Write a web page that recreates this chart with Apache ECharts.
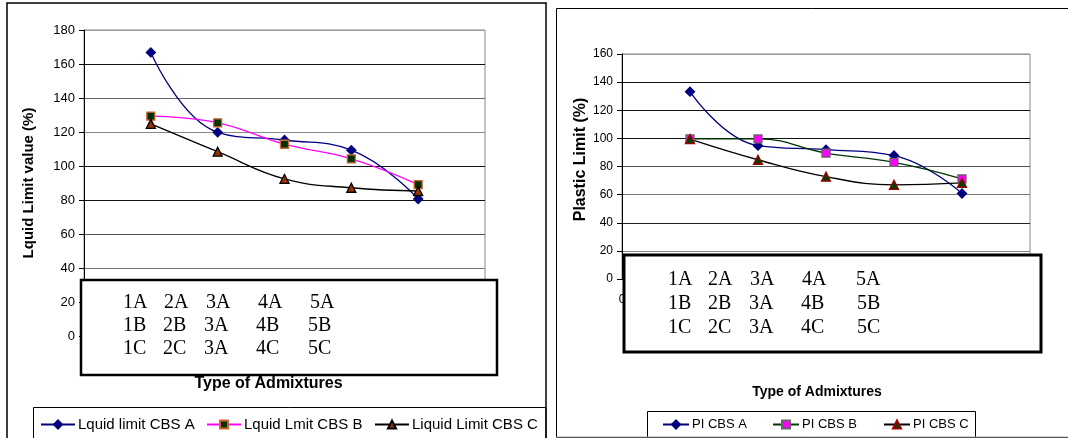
<!DOCTYPE html>
<html>
<head>
<meta charset="utf-8">
<script src="https://cdn.jsdelivr.net/npm/echarts@6/dist/echarts.min.js"></script>
<style>
  html, body { margin: 0; padding: 0; background: #fff; }
  #chart { width: 1068px; height: 438px; }
</style>
</head>
<body>
<div id="chart"></div>
<script>
// Admixture positions along the x axis (1..5 on a 0..6 scale)
const positions = [1, 2, 3, 4, 5];

// Liquid limit (%) per admixture type
const liquidA = [166.8, 119.8, 115.3, 109.3, 80.6];
const liquidB = [129.3, 125.4, 112.8, 104.2, 89.0];
const liquidC = [124.8, 108.4, 92.4, 87.2, 85.3];

// Plastic limit (%) per admixture type
const plasticA = [133.2, 94.8, 92.0, 87.8, 60.8];
const plasticB = [99.6, 99.6, 89.5, 82.9, 71.2];
const plasticC = [99.5, 84.8, 72.8, 67.0, 68.4];

// Admixture codes listed in the boxes under each chart
const codeRows = [
  ['1A', '2A', '3A', '4A', '5A'],
  ['1B', '2B', '3A', '4B', '5B'],
  ['1C', '2C', '3A', '4C', '5C']
];

const legendLeft = ['Lquid limit CBS A', 'Lquid Lmit CBS B', 'Liquid Limit CBS C'];
const legendRight = ['PI CBS A', 'PI CBS B', 'PI CBS C'];

const SANS = 'Liberation Sans, Arial, sans-serif';
const SERIF = "'Liberation Serif', 'Times New Roman', serif";

const pair = vals => vals.map((v, i) => [positions[i], v]);

function lineSeries(name, vals, idx, lineColor, symbol, fill, border, size) {
  return {
    name, type: 'line', xAxisIndex: idx, yAxisIndex: idx,
    data: pair(vals), smooth: 0.45,
    symbol, symbolSize: size,
    lineStyle: { color: lineColor, width: 1.3 },
    itemStyle: { color: fill, borderColor: border, borderWidth: 1.3 },
    emphasis: { disabled: true }, z: 3
  };
}

// Box with admixture codes; column x positions per row
function codeBox(x, y, w, h, lw, colX, rowY) {
  const els = [{
    type: 'rect', shape: { x, y, width: w, height: h },
    style: { fill: '#fff', stroke: '#000', lineWidth: lw }, z: 100
  }];
  codeRows.forEach((row, r) => {
    row.forEach((t, c) => {
      els.push({
        type: 'text', x: colX[r][c], y: rowY[r], z: 101,
        style: { text: t, font: '20px ' + SERIF, fill: '#000', verticalAlign: 'middle' }
      });
    });
  });
  return els;
}

const leftCols = [
  [123, 164, 206, 258, 310],
  [123, 163, 204, 256, 308],
  [123, 163, 204, 256, 308]
];
const rightCols = [
  [668, 708, 750, 802, 856],
  [668, 708, 749, 801, 857],
  [668, 708, 749, 801, 857]
];

const chart = echarts.init(document.getElementById('chart'), null, { renderer: 'canvas' });

const leftSplit = ['#000', '#000', '#777', '#555', '#111', '#111', '#888', '#666', '#111', '#999'];
const rightSplit = ['#000', '#888', '#222', '#777', '#555', '#111', '#111', '#111', '#999'];

function legendItem(name, left, top, size, width) {
  return {
    data: [name], left, top, itemWidth: width, itemHeight: 10, itemGap: 0,
    padding: 0, selectedMode: false,
    textStyle: { fontFamily: SANS, fontSize: size, color: '#000', padding: [0, 0, 0, -2] }
  };
}

chart.setOption({
  animation: false,
  backgroundColor: '#fff',
  grid: [
    { left: 84, right: 1068 - 485, top: 30, bottom: 438 - 336, show: true, borderColor: '#8a8a8a', borderWidth: 1 },
    { left: 622, right: 1068 - 1030, top: 54, bottom: 438 - 279, show: true, borderColor: '#8a8a8a', borderWidth: 1 }
  ],
  xAxis: [
    {
      gridIndex: 0, type: 'value', min: 0, max: 6, interval: 1,
      name: 'Type of Admixtures', nameLocation: 'middle', nameGap: 40,
      nameTextStyle: { fontFamily: SANS, fontWeight: 'bold', fontSize: 16, color: '#000', padding: [0, 32, 0, 0] },
      axisLine: { show: true, lineStyle: { color: '#000' } },
      axisTick: { show: false }, splitLine: { show: false },
      axisLabel: { fontFamily: SANS, fontSize: 13, color: '#000' }
    },
    {
      gridIndex: 1, type: 'value', min: 0, max: 6, interval: 1,
      name: 'Type of Admixtures', nameLocation: 'middle', nameGap: 106,
      nameTextStyle: { fontFamily: SANS, fontWeight: 'bold', fontSize: 14, color: '#000', padding: [0, 18, 0, 0] },
      axisLine: { show: true, lineStyle: { color: '#000' } },
      axisTick: { show: false }, splitLine: { show: false },
      axisLabel: { fontFamily: SANS, fontSize: 12, color: '#000', margin: 15 }
    }
  ],
  yAxis: [
    {
      gridIndex: 0, type: 'value', min: 0, max: 180, interval: 20,
      name: 'Lquid Limit value (%)', nameLocation: 'middle', nameGap: 48,
      nameTextStyle: { fontFamily: SANS, fontWeight: 'bold', fontSize: 15, color: '#000' },
      axisLine: { show: true, lineStyle: { color: '#000' } },
      axisTick: { show: true, inside: false, length: 5, lineStyle: { color: '#000' } },
      axisLabel: { fontFamily: SANS, fontSize: 13, color: '#000', margin: 9 },
      splitLine: { show: true, lineStyle: { color: leftSplit, width: 1 } }
    },
    {
      gridIndex: 1, type: 'value', min: 0, max: 160, interval: 20,
      name: 'Plastic Limit (%)', nameLocation: 'middle', nameGap: 31,
      nameTextStyle: { fontFamily: SANS, fontWeight: 'bold', fontSize: 16, color: '#000', padding: [0, 0, 0, 14] },
      axisLine: { show: true, lineStyle: { color: '#000' } },
      axisTick: { show: true, inside: false, length: 5, lineStyle: { color: '#000' } },
      axisLabel: { fontFamily: SANS, fontSize: 12, color: '#000', margin: 9 },
      splitLine: { show: true, lineStyle: { color: rightSplit, width: 1 } }
    }
  ],
  legend: [
    legendItem(legendLeft[0], 40, 417, 15, 34),
    legendItem(legendLeft[1], 206, 417, 15, 34),
    legendItem(legendLeft[2], 374, 417, 15, 34),
    legendItem(legendRight[0], 662, 418, 13, 26),
    legendItem(legendRight[1], 772, 418, 13, 26),
    legendItem(legendRight[2], 883, 418, 13, 26)
  ],
  series: [
    lineSeries(legendLeft[0], liquidA, 0, '#000080', 'diamond', '#000080', '#000080', 9),
    lineSeries(legendLeft[1], liquidB, 0, '#ff00ff', 'rect', '#003300', '#cc6633', 8),
    lineSeries(legendLeft[2], liquidC, 0, '#000000', 'triangle', '#993300', '#000000', 9),
    lineSeries(legendRight[0], plasticA, 1, '#000080', 'diamond', '#000080', '#000080', 9),
    lineSeries(legendRight[1], plasticB, 1, '#003300', 'rect', '#ff00ff', '#666666', 8),
    lineSeries(legendRight[2], plasticC, 1, '#000000', 'triangle', '#004000', '#a00000', 9)
  ],
  graphic: {
    elements: [
      // panel frames
      { type: 'rect', shape: { x: 7, y: 3, width: 539, height: 450 }, style: { fill: 'none', stroke: '#000', lineWidth: 1.5 }, z: 90, silent: true },
      { type: 'rect', shape: { x: 556.5, y: 8.5, width: 530, height: 429 }, style: { fill: 'none', stroke: '#000', lineWidth: 1 }, z: 90, silent: true },
      { type: 'line', shape: { x1: 556, y1: 437, x2: 1068, y2: 437 }, style: { stroke: '#aaa', lineWidth: 1 }, z: 91, silent: true },
      // legend frames
      { type: 'rect', shape: { x: 33.5, y: 407.5, width: 512.5, height: 40 }, style: { fill: 'none', stroke: '#000', lineWidth: 1 }, z: 90, silent: true },
      { type: 'rect', shape: { x: 647.5, y: 411.5, width: 328, height: 40 }, style: { fill: 'none', stroke: '#000', lineWidth: 1 }, z: 90, silent: true },
      ...codeBox(81, 280, 416, 95, 2.5, leftCols, [303, 326, 349]),
      ...codeBox(624, 255, 417, 97, 3, rightCols, [280, 304, 328])
    ]
  }
});
</script>
</body>
</html>
